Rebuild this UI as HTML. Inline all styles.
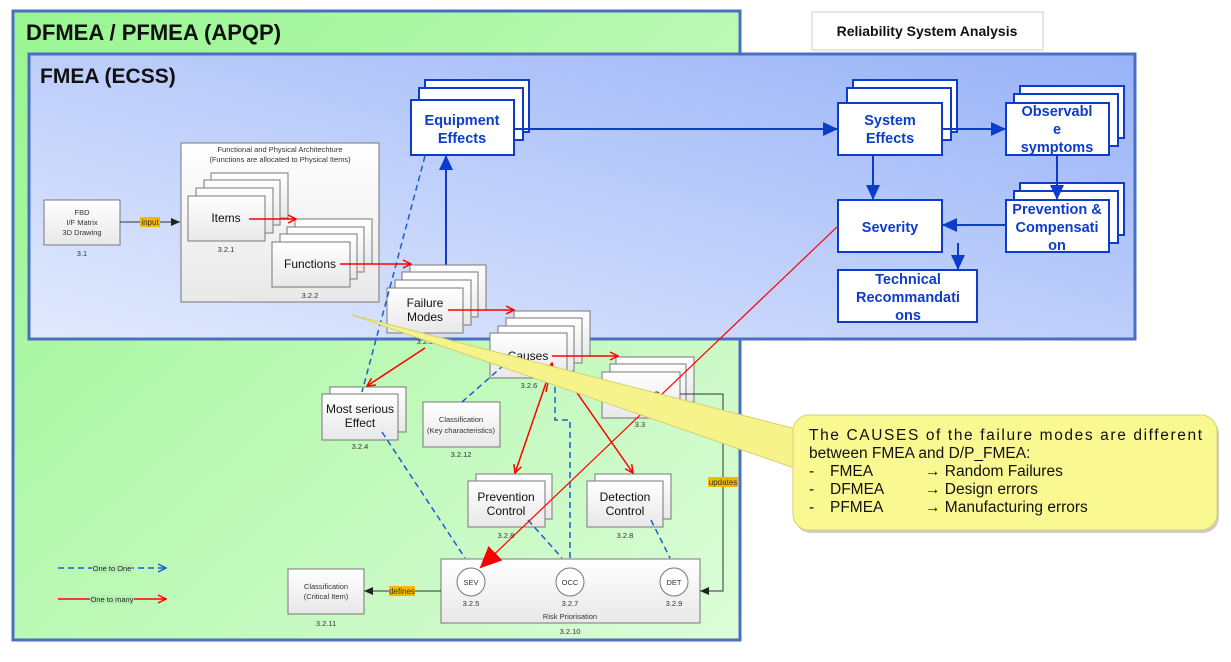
<!DOCTYPE html>
<html><head><meta charset="utf-8"><style>
html,body{margin:0;padding:0;background:#fff;width:1231px;height:662px;overflow:hidden}
svg{display:block;font-family:"Liberation Sans",sans-serif}
</style></head><body>
<svg width="1231" height="662" viewBox="0 0 1231 662" xmlns="http://www.w3.org/2000/svg">
<defs>
<linearGradient id="gg" x1="0" y1="0" x2="1" y2="1"><stop offset="0" stop-color="#98f590"/><stop offset="1" stop-color="#dcfcd8"/></linearGradient>
<linearGradient id="bg" x1="1" y1="0" x2="0" y2="1"><stop offset="0" stop-color="#98b2f8"/><stop offset="1" stop-color="#e2eafd"/></linearGradient>
<linearGradient id="wg" x1="0" y1="0" x2="0" y2="1"><stop offset="0" stop-color="#ffffff"/><stop offset="1" stop-color="#e8e8e8"/></linearGradient>
<marker id="ra" markerWidth="10" markerHeight="10" refX="9" refY="5" orient="auto" markerUnits="userSpaceOnUse"><path d="M1,1 L9,5 L1,9" fill="none" stroke="#f00" stroke-width="1.5"/></marker>
<marker id="ba" markerWidth="16" markerHeight="14" refX="15" refY="7" orient="auto" markerUnits="userSpaceOnUse"><path d="M0,0 L15,7 L0,14 Z" fill="#0d3ccc"/></marker>
<marker id="ka" markerWidth="10" markerHeight="10" refX="9" refY="5" orient="auto" markerUnits="userSpaceOnUse"><path d="M0,1 L9,5 L0,9 Z" fill="#222"/></marker>
<marker id="bd" markerWidth="10" markerHeight="10" refX="9" refY="5" orient="auto" markerUnits="userSpaceOnUse"><path d="M1,1 L9,5 L1,9" fill="none" stroke="#1a5fd0" stroke-width="1.5"/></marker>
<marker id="big" markerWidth="24" markerHeight="24" refX="20" refY="12" orient="auto" markerUnits="userSpaceOnUse"><path d="M0,2 L22,12 L0,22 Z" fill="#f00"/></marker>
</defs>

<!-- green outer -->
<rect x="13" y="11" width="727" height="629" fill="url(#gg)" stroke="#4a6fc2" stroke-width="3"/>
<text x="26" y="40" font-size="22" font-weight="bold" fill="#111">DFMEA / PFMEA (APQP)</text>
<!-- blue inner -->
<rect x="29" y="54" width="1106" height="285" fill="url(#bg)" stroke="#4a6fc2" stroke-width="3"/>
<text x="40" y="83" font-size="21" font-weight="bold" fill="#111">FMEA (ECSS)</text>
<!-- RSA -->
<rect x="812" y="12" width="231" height="38" fill="#fff" stroke="#ccc"/>
<text x="927" y="36" font-size="14" font-weight="bold" text-anchor="middle" fill="#111">Reliability System Analysis</text>

<!-- blue boxes -->
<g fill="#fff" stroke="#0d3ccc" stroke-width="2">
<rect x="425" y="80" width="104" height="52"/><rect x="419" y="88" width="104" height="52"/><rect x="411" y="100" width="103" height="55"/>
<rect x="853" y="80" width="104" height="52"/><rect x="847" y="88" width="104" height="52"/><rect x="838" y="103" width="104" height="52"/>
<rect x="1020" y="86" width="104" height="52"/><rect x="1014" y="94" width="104" height="52"/><rect x="1006" y="103" width="103" height="52"/>
<rect x="1020" y="183" width="104" height="52"/><rect x="1014" y="191" width="104" height="52"/><rect x="1006" y="200" width="103" height="52"/>
<rect x="838" y="200" width="104" height="52"/>
<rect x="838" y="270" width="139" height="52"/>
</g>
<g font-size="14.5" font-weight="bold" fill="#0d3ccc" text-anchor="middle">
<text x="462" y="125">Equipment</text><text x="462" y="143">Effects</text>
<text x="890" y="125">System</text><text x="890" y="143">Effects</text>
<text x="1057" y="116">Observabl</text><text x="1057" y="134">e</text><text x="1057" y="152">symptoms</text>
<text x="1057" y="214">Prevention &amp;</text><text x="1057" y="232">Compensati</text><text x="1057" y="250">on</text>
<text x="890" y="232">Severity</text>
<text x="908" y="284">Technical</text><text x="908" y="302">Recommandati</text><text x="908" y="320">ons</text>
</g>
<g stroke="#0d3ccc" stroke-width="2" fill="none">
<line x1="514" y1="129" x2="838" y2="129" marker-end="url(#ba)"/>
<line x1="942" y1="129" x2="1006" y2="129" marker-end="url(#ba)"/>
<line x1="1057" y1="155" x2="1057" y2="200" marker-end="url(#ba)"/>
<line x1="873" y1="155" x2="873" y2="200" marker-end="url(#ba)"/>
<line x1="1006" y1="225" x2="942" y2="225" marker-end="url(#ba)"/>
<line x1="958" y1="243" x2="958" y2="270" marker-end="url(#ba)"/>
<line x1="446" y1="293" x2="446" y2="155" marker-end="url(#ba)"/>
</g>

<!-- gray boxes -->
<g fill="url(#wg)" stroke="#777" stroke-width="1">
<rect x="44" y="200" width="76" height="45"/>
<rect x="181" y="143" width="198" height="159"/>
<rect x="211" y="173" width="77" height="45"/><rect x="204" y="180" width="76" height="45"/><rect x="196" y="188" width="77" height="45"/><rect x="188" y="196" width="77" height="45"/>
<rect x="295" y="219" width="77" height="45"/><rect x="287" y="227" width="77" height="45"/><rect x="280" y="234" width="77" height="45"/><rect x="272" y="242" width="78" height="45"/>
<rect x="410" y="265" width="76" height="45"/><rect x="402" y="272" width="76" height="45"/><rect x="395" y="280" width="76" height="45"/><rect x="387" y="288" width="76" height="45"/>
<rect x="514" y="311" width="76" height="45"/><rect x="506" y="318" width="76" height="45"/><rect x="498" y="326" width="76" height="45"/><rect x="490" y="333" width="77" height="45"/>
<rect x="616" y="357" width="78" height="45"/><rect x="610" y="364" width="76" height="45"/><rect x="602" y="372" width="78" height="46"/>
<rect x="330" y="387" width="76" height="45"/><rect x="322" y="394" width="76" height="46"/>
<rect x="423" y="402" width="77" height="45"/>
<rect x="476" y="474" width="76" height="45"/><rect x="468" y="481" width="77" height="46"/>
<rect x="595" y="474" width="76" height="45"/><rect x="587" y="481" width="76" height="46"/>
<rect x="441" y="559" width="259" height="64"/>
<rect x="288" y="569" width="76" height="45"/>
</g>
<g fill="#fff" stroke="#777"><circle cx="471" cy="582" r="14"/><circle cx="570" cy="582" r="14"/><circle cx="674" cy="582" r="14"/></g>

<g font-size="7.5" fill="#333" text-anchor="middle">
<text x="82" y="215">FBD</text><text x="82" y="225">I/F Matrix</text><text x="82" y="235">3D Drawing</text><text x="82" y="256">3.1</text>
<text x="280" y="152">Functional and Physical Architechture</text><text x="280" y="162">(Functions are allocated to Physical Items)</text>
<text x="226" y="252">3.2.1</text><text x="310" y="298">3.2.2</text><text x="425" y="344">3.2.3</text><text x="529" y="388">3.2.6</text>
<text x="640" y="427">3.3</text><text x="360" y="449">3.2.4</text>
<text x="461" y="422">Classification</text><text x="461" y="433">(Key characteristics)</text><text x="461" y="457">3.2.12</text>
<text x="506" y="538">3.2.8</text><text x="625" y="538">3.2.8</text>
<text x="471" y="585">SEV</text><text x="570" y="585">OCC</text><text x="674" y="585">DET</text>
<text x="471" y="606">3.2.5</text><text x="570" y="606">3.2.7</text><text x="674" y="606">3.2.9</text>
<text x="570" y="619">Risk Priorisation</text><text x="570" y="634">3.2.10</text>
<text x="326" y="589">Classification</text><text x="326" y="599">(Critical Item)</text><text x="326" y="626">3.2.11</text>
</g>
<g font-size="12" fill="#111" text-anchor="middle">
<text x="226" y="222">Items</text><text x="310" y="268">Functions</text>
<text x="425" y="307">Failure</text><text x="425" y="321">Modes</text>
<text x="528" y="360">Causes</text><text x="640" y="398">Actions</text>
<text x="360" y="413">Most serious</text><text x="360" y="427">Effect</text>
<text x="506" y="501">Prevention</text><text x="506" y="515">Control</text>
<text x="625" y="501">Detection</text><text x="625" y="515">Control</text>
</g>

<!-- black connectors -->
<g stroke="#333" stroke-width="1" fill="none">
<line x1="120" y1="222" x2="180" y2="222" marker-end="url(#ka)"/>
<polyline points="680,394 723,394 723,591 700,591" marker-end="url(#ka)"/>
<line x1="441" y1="591" x2="364" y2="591" marker-end="url(#ka)"/>
</g>
<rect x="140" y="217" width="20" height="10" fill="#f5b800"/><text x="150" y="225" font-size="8" text-anchor="middle" fill="#333">input</text>
<rect x="708" y="477" width="30" height="10" fill="#f5b800"/><text x="723" y="485" font-size="8" text-anchor="middle" fill="#333">updates</text>
<rect x="389" y="586" width="26" height="10" fill="#f5b800"/><text x="402" y="594" font-size="8" text-anchor="middle" fill="#333">defines</text>

<!-- blue dashed -->
<g stroke="#1a5fd0" stroke-width="1.5" fill="none" stroke-dasharray="6,4">
<line x1="425" y1="156" x2="362" y2="392"/>
<line x1="504" y1="365" x2="462" y2="402"/>
<polyline points="555,377 555,420 570,420 570,559"/>
<line x1="382" y1="432" x2="465" y2="558"/>
<line x1="528" y1="520" x2="562" y2="558"/>
<line x1="651" y1="520" x2="670" y2="558"/>
<line x1="58" y1="568" x2="166" y2="568" marker-end="url(#bd)"/>
</g>
<!-- red -->
<g stroke="#f00" stroke-width="1.5" fill="none">
<line x1="249" y1="219" x2="296" y2="219" marker-end="url(#ra)"/>
<line x1="340" y1="264" x2="411" y2="264" marker-end="url(#ra)"/>
<line x1="448" y1="310" x2="514" y2="310" marker-end="url(#ra)"/>
<line x1="552" y1="356" x2="618" y2="356" marker-end="url(#ra)"/>
<line x1="425" y1="348" x2="367" y2="386" marker-end="url(#ra)"/>
<line x1="547" y1="380" x2="515" y2="473" marker-end="url(#ra)"/>
<line x1="568" y1="380" x2="633" y2="473" marker-end="url(#ra)"/>
<line x1="546" y1="392" x2="552" y2="363" marker-end="url(#ra)"/>
<line x1="58" y1="599" x2="166" y2="599" marker-end="url(#ra)"/>
<line x1="838" y1="226" x2="481" y2="567" stroke-width="1.2" marker-end="url(#big)"/>
</g>
<rect x="92" y="564" width="40" height="9" fill="#b4f0b0"/><text x="112" y="571" font-size="7.5" text-anchor="middle" fill="#222">One to One</text>
<rect x="90" y="595" width="44" height="9" fill="#b4f0b0"/><text x="112" y="602" font-size="7.5" text-anchor="middle" fill="#222">One to many</text>

<!-- callout -->
<path d="M352,315 L800,430 L800,470 Z" fill="#f5f38a" stroke="#d8d070" stroke-width="1"/>
<rect x="795" y="418" width="424" height="115" rx="16" fill="#9a9a9a" opacity="0.5"/>
<rect x="793" y="415" width="424" height="115" rx="16" fill="#faf890" stroke="#d8d070"/>
<g font-size="15.5" fill="#111">
<text x="809" y="440" textLength="393" lengthAdjust="spacing">The CAUSES of the failure modes are different</text>
<text x="809" y="458">between FMEA and D/P_FMEA:</text>
<text x="809" y="476">-</text><text x="830" y="476">FMEA</text><text x="925" y="476">→ Random Failures</text>
<text x="809" y="494">-</text><text x="830" y="494">DFMEA</text><text x="925" y="494">→ Design errors</text>
<text x="809" y="512">-</text><text x="830" y="512">PFMEA</text><text x="925" y="512">→ Manufacturing errors</text>
</g>
</svg>
</body></html>
